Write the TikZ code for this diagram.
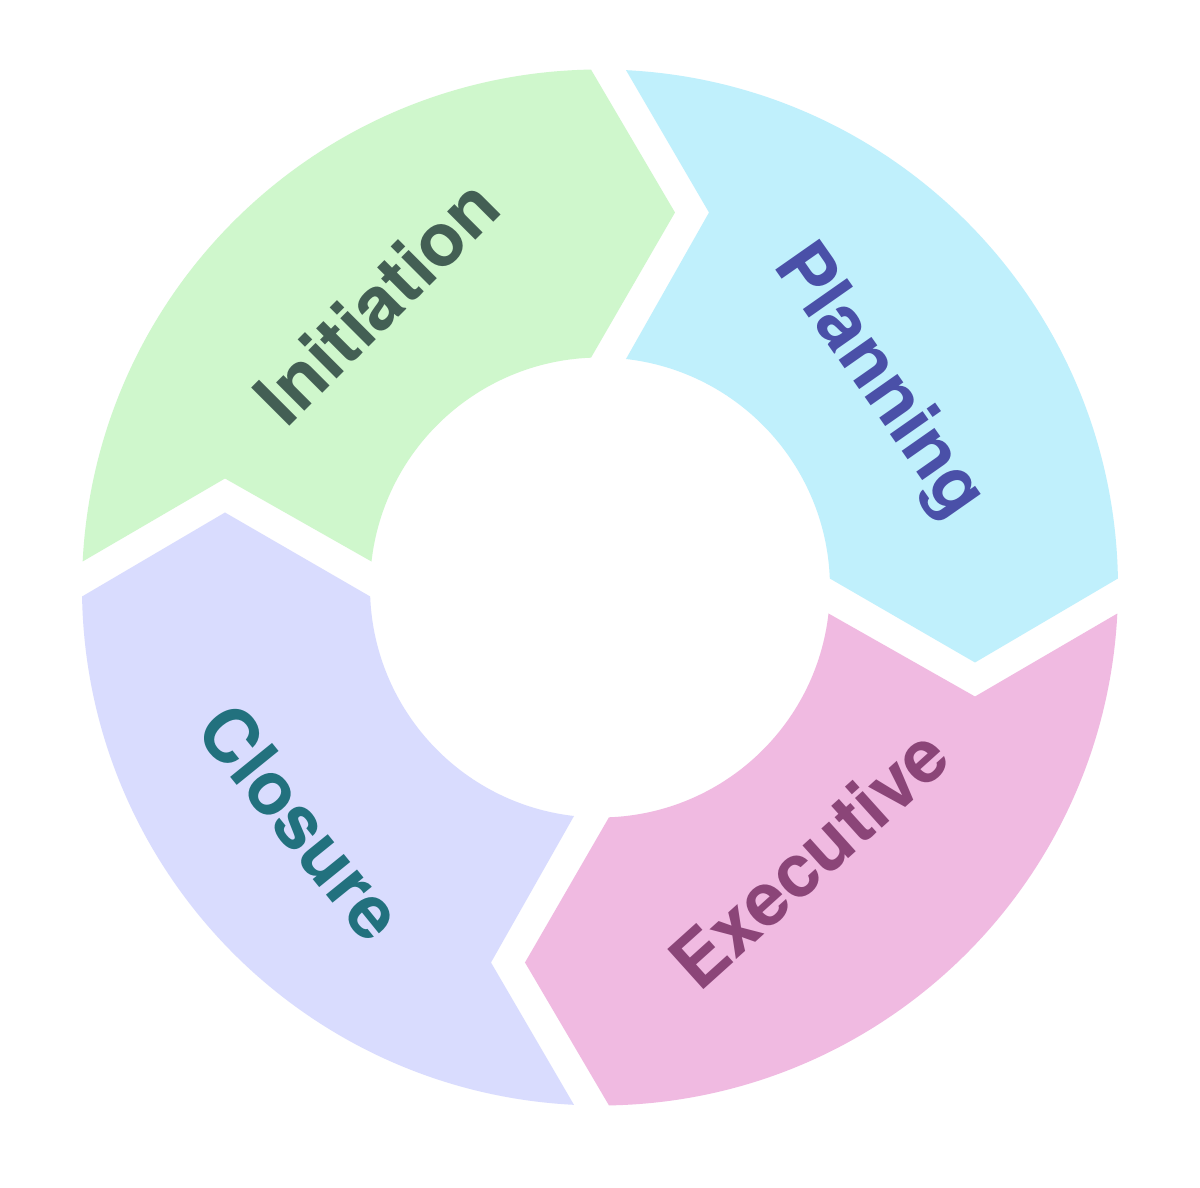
\documentclass[tikz,border=0pt]{standalone}
\usepackage{fontspec}
\setmainfont{TeX Gyre Heros}
\definecolor{initfill}{HTML}{CFF7CC}
\definecolor{planfill}{HTML}{C0F0FC}
\definecolor{execfill}{HTML}{F0BAE1}
\definecolor{closefill}{HTML}{D9DCFE}
\definecolor{inittext}{HTML}{435F54}
\definecolor{plantext}{HTML}{4A50A8}
\definecolor{exectext}{HTML}{8B4578}
\definecolor{closetext}{HTML}{22717E}
\tikzset{
  phaselabel/.style={font=\fontsize{74}{80}\selectfont\bfseries, inner sep=0pt, anchor=center},
  pics/segment/.style={code={
    \fill[#1] (177.12:518) arc[start angle=177.12, end angle=90.995, radius=518]
      -- (75,375) -- (92.24:230) arc[start angle=92.24, end angle=173.51, radius=230]
      -- (-375,109) -- cycle;
  }}
}
\begin{document}
\begin{tikzpicture}[x=1pt,y=1pt]
\useasboundingbox[fill=white] (-600,-600.5) rectangle (600,587.5);
\pic[rotate=0] {segment=initfill};
\pic[rotate=-90] {segment=planfill};
\pic[rotate=-180] {segment=execfill};
\pic[rotate=-270] {segment=closefill};
\node[phaselabel, text=inittext, rotate=45] (init) at (-223.5,286.5) {Initiation};
\node[phaselabel, text=plantext, rotate=-55] (plan) at (278,205.5) {Planning};
\node[phaselabel, text=exectext, rotate=42] (exec) at (208.5,-270.5) {Executive};
\node[phaselabel, text=closetext, rotate=-51] (close) at (-298.5,-234.5) {Closure};
\end{tikzpicture}
\end{document}
